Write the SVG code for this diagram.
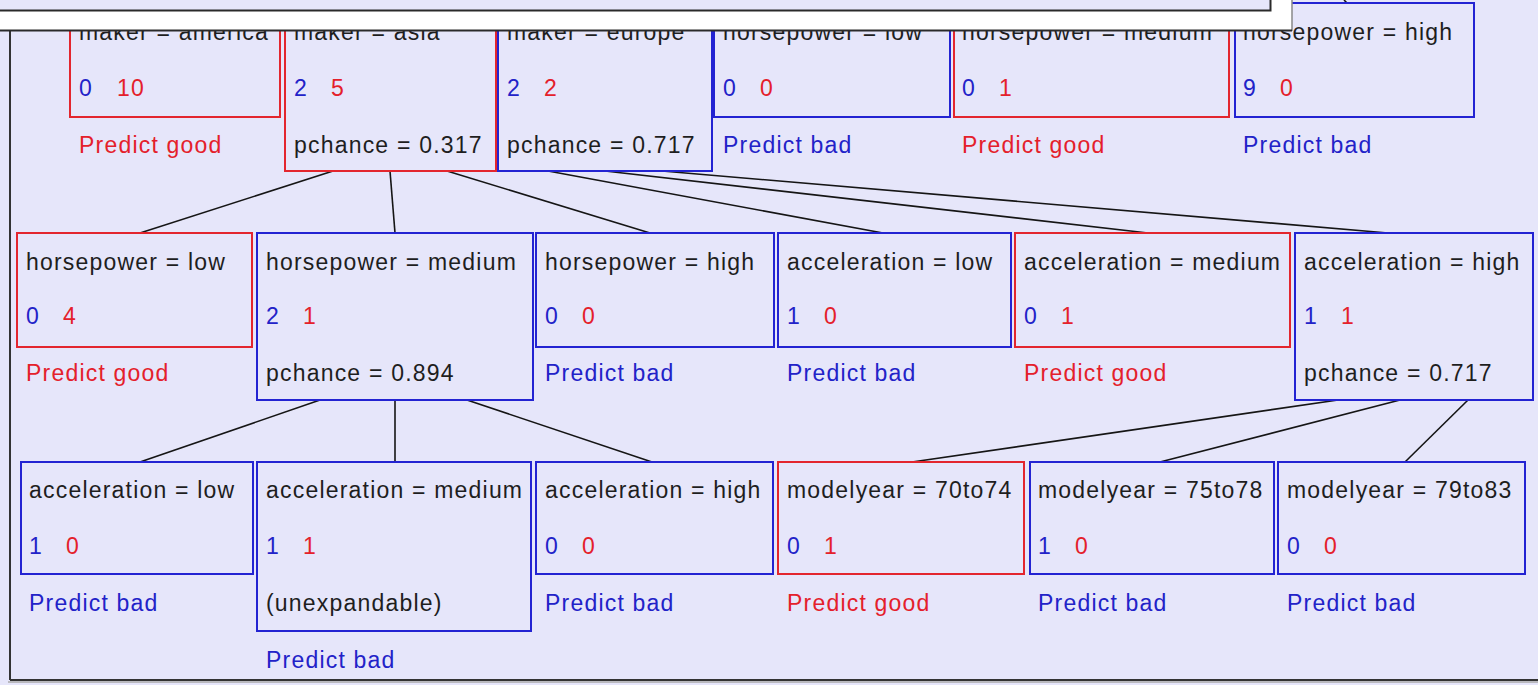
<svg xmlns="http://www.w3.org/2000/svg" width="1538" height="685" viewBox="0 0 1538 685">
<style>
text{font-family:"Liberation Sans",Arial,sans-serif;font-size:23px;letter-spacing:1.2px;fill:#1e1e1e}
.r{fill:none;stroke:#e3262e;stroke-width:2}
.b{fill:none;stroke:#2323d2;stroke-width:2}
.tb{fill:#2222c8}
.tr{fill:#e4202b}
.c{stroke:#151515;stroke-width:1.6;fill:none}
</style>
<rect x="0" y="0" width="1538" height="685" fill="#e6e6fa"/>
<g id="frame">
<line x1="10" y1="31" x2="10" y2="680" stroke="#333" stroke-width="2"/>
<line x1="10" y1="680" x2="1538" y2="680" stroke="#333" stroke-width="2"/>
<line x1="8" y1="682" x2="1538" y2="682" stroke="#aaa" stroke-width="1.5"/>
</g>
<g id="connectors">
<line class="c" x1="333" y1="171" x2="140" y2="233"/>
<line class="c" x1="390" y1="171" x2="395" y2="233"/>
<line class="c" x1="447" y1="171" x2="650" y2="233"/>
<line class="c" x1="548" y1="171" x2="883" y2="233"/>
<line class="c" x1="605" y1="171" x2="1148" y2="233"/>
<line class="c" x1="662" y1="171" x2="1388" y2="233"/>
<line class="c" x1="320" y1="400" x2="140" y2="462"/>
<line class="c" x1="395" y1="400" x2="395" y2="462"/>
<line class="c" x1="467" y1="400" x2="652" y2="462"/>
<line class="c" x1="1338" y1="400" x2="912" y2="462"/>
<line class="c" x1="1400" y1="400" x2="1160" y2="462"/>
<line class="c" x1="1468" y1="400" x2="1405" y2="462"/>
<line class="c" x1="1344" y1="0" x2="1347" y2="3"/>
</g>
<g id="n_maker_america">
<rect class="r" x="70" y="3" width="210" height="114"/>
<text x="79" y="40">maker = america</text>
<text x="79" y="96"><tspan class="tb">0</tspan><tspan class="tr" x="117">10</tspan></text>
<text class="tr" x="79" y="153">Predict good</text>
</g>
<g id="n_maker_asia">
<rect class="r" x="285" y="3" width="211" height="168"/>
<text x="294" y="40">maker = asia</text>
<text x="294" y="96"><tspan class="tb">2</tspan><tspan class="tr" x="331">5</tspan></text>
<text x="294" y="153">pchance = 0.317</text>
</g>
<g id="n_maker_europe">
<rect class="b" x="498" y="3" width="214" height="168"/>
<text x="507" y="40">maker = europe</text>
<text x="507" y="96"><tspan class="tb">2</tspan><tspan class="tr" x="544">2</tspan></text>
<text x="507" y="153">pchance = 0.717</text>
</g>
<g id="n_hp_low_top">
<rect class="b" x="714" y="3" width="236" height="114"/>
<text x="723" y="40">horsepower = low</text>
<text x="723" y="96"><tspan class="tb">0</tspan><tspan class="tr" x="760">0</tspan></text>
<text class="tb" x="723" y="153">Predict bad</text>
</g>
<g id="n_hp_medium_top">
<rect class="r" x="954" y="3" width="275" height="114"/>
<text x="962" y="40">horsepower = medium</text>
<text x="962" y="96"><tspan class="tb">0</tspan><tspan class="tr" x="999">1</tspan></text>
<text class="tr" x="962" y="153">Predict good</text>
</g>
<g id="n_hp_high_top">
<rect class="b" x="1235" y="3" width="239" height="114"/>
<text x="1243" y="40">horsepower = high</text>
<text x="1243" y="96"><tspan class="tb">9</tspan><tspan class="tr" x="1280">0</tspan></text>
<text class="tb" x="1243" y="153">Predict bad</text>
</g>
<g id="n_hp_low">
<rect class="r" x="17" y="233" width="235" height="114"/>
<text x="26" y="270">horsepower = low</text>
<text x="26" y="324"><tspan class="tb">0</tspan><tspan class="tr" x="63">4</tspan></text>
<text class="tr" x="26" y="381">Predict good</text>
</g>
<g id="n_hp_medium">
<rect class="b" x="257" y="233" width="276" height="167"/>
<text x="266" y="270">horsepower = medium</text>
<text x="266" y="324"><tspan class="tb">2</tspan><tspan class="tr" x="303">1</tspan></text>
<text x="266" y="381">pchance = 0.894</text>
</g>
<g id="n_hp_high">
<rect class="b" x="536" y="233" width="238" height="114"/>
<text x="545" y="270">horsepower = high</text>
<text x="545" y="324"><tspan class="tb">0</tspan><tspan class="tr" x="582">0</tspan></text>
<text class="tb" x="545" y="381">Predict bad</text>
</g>
<g id="n_acc_low">
<rect class="b" x="778" y="233" width="233" height="114"/>
<text x="787" y="270">acceleration = low</text>
<text x="787" y="324"><tspan class="tb">1</tspan><tspan class="tr" x="824">0</tspan></text>
<text class="tb" x="787" y="381">Predict bad</text>
</g>
<g id="n_acc_medium">
<rect class="r" x="1015" y="233" width="275" height="114"/>
<text x="1024" y="270">acceleration = medium</text>
<text x="1024" y="324"><tspan class="tb">0</tspan><tspan class="tr" x="1061">1</tspan></text>
<text class="tr" x="1024" y="381">Predict good</text>
</g>
<g id="n_acc_high">
<rect class="b" x="1295" y="233" width="238" height="167"/>
<text x="1304" y="270">acceleration = high</text>
<text x="1304" y="324"><tspan class="tb">1</tspan><tspan class="tr" x="1341">1</tspan></text>
<text x="1304" y="381">pchance = 0.717</text>
</g>
<g id="n_acc_low_2">
<rect class="b" x="21" y="462" width="232" height="112"/>
<text x="29" y="498">acceleration = low</text>
<text x="29" y="554"><tspan class="tb">1</tspan><tspan class="tr" x="66">0</tspan></text>
<text class="tb" x="29" y="611">Predict bad</text>
</g>
<g id="n_acc_medium_2">
<rect class="b" x="257" y="462" width="274" height="169"/>
<text x="266" y="498">acceleration = medium</text>
<text x="266" y="554"><tspan class="tb">1</tspan><tspan class="tr" x="303">1</tspan></text>
<text x="266" y="611">(unexpandable)</text>
<text class="tb" x="266" y="668">Predict bad</text>
</g>
<g id="n_acc_high_2">
<rect class="b" x="536" y="462" width="237" height="112"/>
<text x="545" y="498">acceleration = high</text>
<text x="545" y="554"><tspan class="tb">0</tspan><tspan class="tr" x="582">0</tspan></text>
<text class="tb" x="545" y="611">Predict bad</text>
</g>
<g id="n_my_70to74">
<rect class="r" x="778" y="462" width="246" height="112"/>
<text x="787" y="498">modelyear = 70to74</text>
<text x="787" y="554"><tspan class="tb">0</tspan><tspan class="tr" x="824">1</tspan></text>
<text class="tr" x="787" y="611">Predict good</text>
</g>
<g id="n_my_75to78">
<rect class="b" x="1030" y="462" width="244" height="112"/>
<text x="1038" y="498">modelyear = 75to78</text>
<text x="1038" y="554"><tspan class="tb">1</tspan><tspan class="tr" x="1075">0</tspan></text>
<text class="tb" x="1038" y="611">Predict bad</text>
</g>
<g id="n_my_79to83">
<rect class="b" x="1278" y="462" width="247" height="112"/>
<text x="1287" y="498">modelyear = 79to83</text>
<text x="1287" y="554"><tspan class="tb">0</tspan><tspan class="tr" x="1324">0</tspan></text>
<text class="tb" x="1287" y="611">Predict bad</text>
</g>
<g id="overlay">
<rect x="0" y="0" width="1292" height="31" fill="#ffffff"/>
<rect x="0" y="0" width="1270" height="10" fill="#e6e6fa"/>
<polyline points="0,10.5 1270.5,10.5 1270.5,0" fill="none" stroke="#2a2a2a" stroke-width="2"/>
<line x1="1292" y1="0" x2="1292" y2="31" stroke="#888" stroke-width="1.5"/>
<line x1="0" y1="30.5" x2="1292" y2="30.5" stroke="#2a2a2a" stroke-width="2"/>
</g>
</svg>
